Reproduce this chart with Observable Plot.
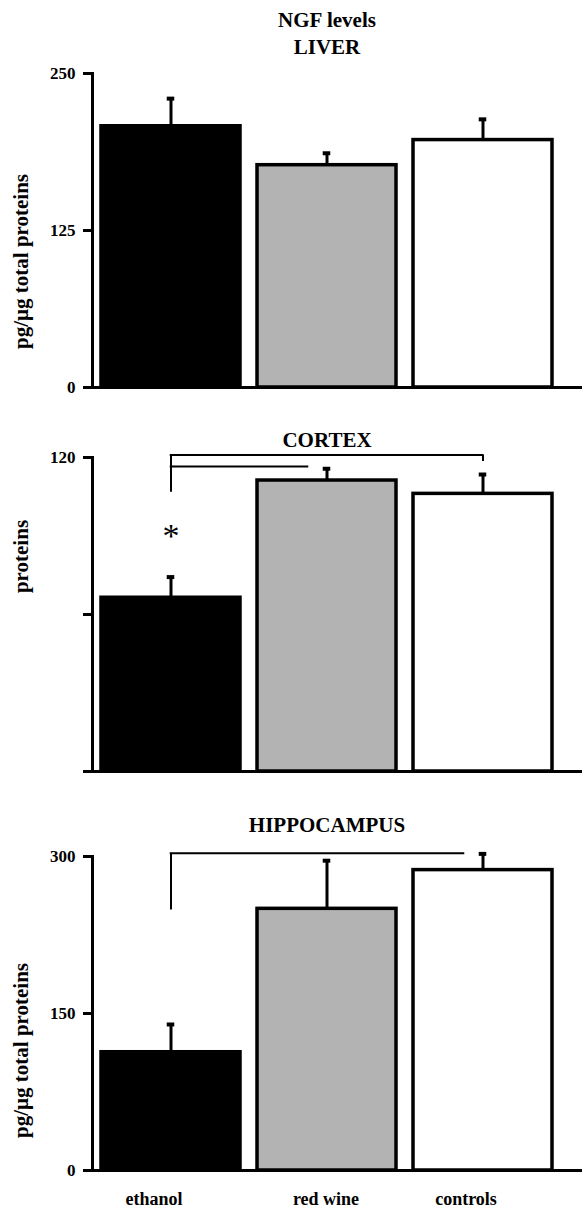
<!DOCTYPE html>
<html><head><meta charset="utf-8">
<script src="https://cdn.jsdelivr.net/npm/d3@7"></script>
<script src="https://cdn.jsdelivr.net/npm/@observablehq/plot@0.6"></script>
<style>
body{margin:0;background:#fff;}
#c svg{display:block;}
</style></head><body><div id="c"></div>
<script>
// ---- data ----
const groups = ["ethanol", "red wine", "controls"];
const fills = ["#000000", "#b3b3b3", "#ffffff"];

const liverMean = [208, 177, 197];
const liverErr = [22, 9.5, 16.5];
const liverTicks = [0, 125, 250];

const cortexMean = [66.4, 111.2, 106.1];
const cortexErr = [7.9, 4.5, 7.4];
const cortexTicks = [0, 60, 120];
const cortexTickLabels = ["", "", "120"];

const hippoMean = [113, 250, 287];
const hippoErr = [26.5, 46, 15.5];
const hippoTicks = [0, 150, 300];

// significance brackets (values in y units)
const cortexStem = [{x: "ethanol", y1: 106.7, y2: 121}];
const cortexLongBracket = [{from: "ethanol", to: "controls", y: 121, drop: 118.5}];
const cortexShortBracket = [{from: "ethanol", to: "red wine", y: 116.6}];
const cortexStar = [{x: "ethanol", y: 91.5, label: "*"}];
const hippoStem = [{x: "ethanol", y1: 249, y2: 303.2}];
const hippoBracket = [{from: "ethanol", to: "controls", y: 303.2}];

// ---- layout ----
const FONT = "'Liberation Serif', 'Times New Roman', serif";
const W = 582, ML = 92, MR = 21;
const xOpts = {domain: groups, paddingInner: 0.11, paddingOuter: 0.0515};
const bw = Plot.scale({x: {...xOpts, type: "band", range: [ML, W - MR]}}).bandwidth;
const capInset = (bw - 8) / 2;

function panel({mean, err, ticks, tickFormat, yMax, height, marginTop, marginBottom, titles, ylabel, ylabelDy, extra = [], xAxis = false}) {
  const data = groups.map((g, i) => ({group: g, value: mean[i], hi: mean[i] + err[i]}));
  const axisStyle = {tickSize: 0, tickPadding: 22, fontSize: 18, fontWeight: "bold", label: null};
  return Plot.plot({
    width: W, height, marginTop, marginBottom, marginLeft: ML, marginRight: MR,
    style: {fontFamily: FONT, fontWeight: "bold", fontSize: "17px", color: "#000", background: "#fff", overflow: "visible"},
    x: {...xOpts, axis: null},
    y: {domain: [0, yMax], axis: null},
    color: {domain: groups, range: fills},
    marks: [
      Plot.barY(data, {x: "group", y: "value", fill: "group", stroke: "#000", strokeWidth: 3.5}),
      Plot.ruleX(data, {x: "group", y1: "value", y2: "hi", stroke: "#000", strokeWidth: 3}),
      Plot.tickY(data, {x: "group", y: "hi", stroke: "#000", strokeWidth: 4, insetLeft: capInset, insetRight: capInset}),
      Plot.axisY({ticks, tickFormat, tickSize: 9, tickPadding: 8, strokeWidth: 3, fontSize: 17, fontWeight: "bold", label: null}),
      Plot.frame({anchor: "left", stroke: "#000", strokeWidth: 3}),
      Plot.ruleY([0], {stroke: "#000", strokeWidth: 3, insetLeft: -9, insetRight: -MR}),
      ...titles.map(([t, dy]) => Plot.text([t], {text: d => d, frameAnchor: "top", dy, fontSize: 21, fontWeight: "bold", lineAnchor: "middle", fill: "#000"})),
      Plot.text([ylabel], {text: d => d, frameAnchor: "left", rotate: -90, dx: -71, dy: ylabelDy, fontSize: 21, fontWeight: "bold", lineAnchor: "middle", textAnchor: "middle", fill: "#000"}),
      ...(xAxis ? [
        Plot.axisX([groups[0], groups[2]], {...axisStyle, dx: -17}),
        Plot.axisX([groups[1]], {...axisStyle, dx: -1})
      ] : []),
      ...extra
    ]
  });
}

const c = document.getElementById("c");

c.append(panel({
  mean: liverMean, err: liverErr, ticks: liverTicks, tickFormat: d => String(d), yMax: 250,
  height: 400, marginTop: 73, marginBottom: 13,
  titles: [["NGF levels", -53], ["LIVER", -26]],
  ylabel: "pg/µg total proteins", ylabelDy: 31
}));

c.append(panel({
  mean: cortexMean, err: cortexErr, ticks: cortexTicks, tickFormat: d => cortexTickLabels[cortexTicks.indexOf(d)], yMax: 120,
  height: 400, marginTop: 57, marginBottom: 29,
  titles: [["CORTEX", -17]],
  ylabel: "proteins", ylabelDy: -58,
  extra: [
    Plot.ruleX(cortexStem, {x: "x", y1: "y1", y2: "y2", stroke: "#000", strokeWidth: 2}),
    Plot.ruleY(cortexLongBracket, {y: "y", x1: "from", x2: "to", stroke: "#000", strokeWidth: 2, insetLeft: bw / 2 - 1, insetRight: bw / 2 - 1}),
    Plot.ruleX(cortexLongBracket, {x: "to", y1: "drop", y2: "y", stroke: "#000", strokeWidth: 2}),
    Plot.ruleY(cortexShortBracket, {y: "y", x1: "from", x2: "to", stroke: "#000", strokeWidth: 2, insetLeft: bw / 2 - 1, insetRight: bw / 2 + 18}),
    Plot.text(cortexStar, {x: "x", y: "y", text: "label", fontSize: 34, fontWeight: "normal", lineAnchor: "middle", dy: 4, fill: "#000"})
  ]
}));

c.append(panel({
  mean: hippoMean, err: hippoErr, ticks: hippoTicks, tickFormat: d => String(d), yMax: 300,
  height: 408, marginTop: 56, marginBottom: 38,
  titles: [["HIPPOCAMPUS", -31]],
  ylabel: "pg/µg total proteins", ylabelDy: 37,
  xAxis: true,
  extra: [
    Plot.ruleX(hippoStem, {x: "x", y1: "y1", y2: "y2", stroke: "#000", strokeWidth: 2}),
    Plot.ruleY(hippoBracket, {y: "y", x1: "from", x2: "to", stroke: "#000", strokeWidth: 2, insetLeft: bw / 2 - 1, insetRight: bw / 2 + 18})
  ]
}));
</script></body></html>
